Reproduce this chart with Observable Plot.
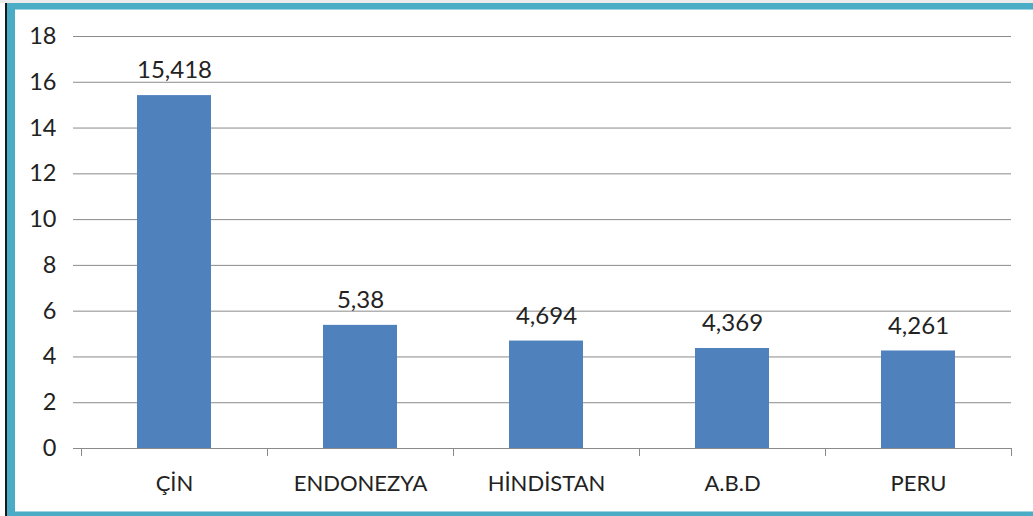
<!DOCTYPE html>
<html>
<head>
<meta charset="utf-8">
<script src="https://cdn.jsdelivr.net/npm/d3@7"></script>
<script src="https://cdn.jsdelivr.net/npm/@observablehq/plot@0.6"></script>
<style>
  html, body { margin: 0; padding: 0; background: #fff; }
  #wrap { position: relative; width: 1033px; height: 516px; overflow: hidden; }
  #chart { position: absolute; left: 0; top: 0; }
  .b { position: absolute; }
</style>
</head>
<body>
<div id="wrap">
  <div id="chart"></div>
  <div class="b" style="left:0;top:0;width:1033px;height:3px;background:#ececec"></div>
  <div class="b" style="left:7px;top:3px;width:1026px;height:6px;background:#4bacc6"></div>
  <div class="b" style="left:15px;top:9px;width:1018px;height:1px;background:#9fd3e0"></div>
  <div class="b" style="left:5px;top:3px;width:2px;height:513px;background:#1a1a1a"></div>
  <div class="b" style="left:7px;top:3px;width:8px;height:513px;background:#4bacc6"></div>
  <div class="b" style="left:15px;top:511px;width:1018px;height:1px;background:#9fd3e0"></div>
  <div class="b" style="left:7px;top:512px;width:1026px;height:4px;background:#4bacc6"></div>
</div>
<script>
const categories = ["ÇİN", "ENDONEZYA", "HİNDİSTAN", "A.B.D", "PERU"];
const values = [15.418, 5.38, 4.694, 4.369, 4.261];
const yTicks = [0, 2, 4, 6, 8, 10, 12, 14, 16, 18];

const data = categories.map((c, i) => ({cat: c, value: values[i]}));
const fmt = v => String(v).replace(".", ",");

const W = 1033, H = 516, mL = 81, mR = 22, mT = 36, mB = 68;
const step = (W - mL - mR) / categories.length;
const font = "Lato, 'Open Sans', sans-serif";
const grid = "#8a8a8a";
const ink = "#222";

const plot = Plot.plot({
  width: W,
  height: H,
  marginLeft: mL,
  marginRight: mR,
  marginTop: mT,
  marginBottom: mB,
  style: {fontFamily: font, fontSize: "22px", color: ink, background: "transparent"},
  x: {domain: categories, paddingInner: 0.6, paddingOuter: 0.3, label: null},
  y: {domain: [0, 18], label: null},
  marks: [
    Plot.gridY(yTicks, {stroke: grid, strokeOpacity: 1, strokeWidth: 1}),
    Plot.axisY(yTicks, {tickSize: 8, tickPadding: 17, stroke: grid, strokeOpacity: 1, fontSize: 23.5, fill: ink, label: null}),
    Plot.ruleY([0], {stroke: grid, strokeWidth: 1}),
    Plot.ruleX(categories, {x: d => d, y1: 0, y2: 0, dx: -step / 2, insetBottom: -8, stroke: grid}),
    Plot.ruleX(categories.slice(-1), {x: d => d, y1: 0, y2: 0, dx: step / 2, insetBottom: -8, stroke: grid}),
    Plot.barY(data, {x: "cat", y: "value", fill: "#4f81bd"}),
    Plot.text(data, {x: "cat", y: "value", text: d => fmt(d.value), dy: -25, fontSize: 24, fill: ink}),
    Plot.axisX({tickSize: 0, tickPadding: 27, fontSize: 22, fill: ink, label: null})
  ]
});
document.getElementById("chart").appendChild(plot);
</script>
</body>
</html>
